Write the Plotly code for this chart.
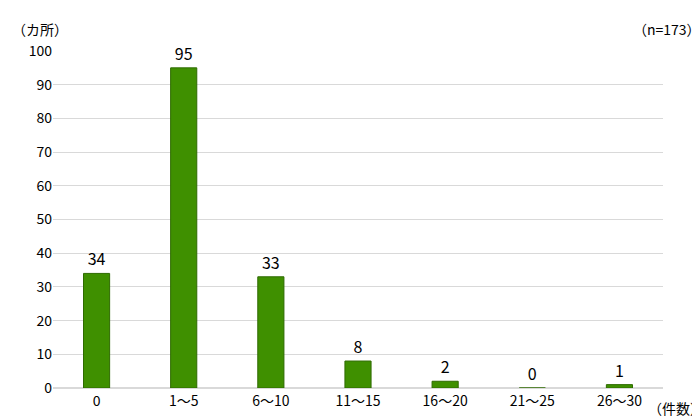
import plotly.graph_objects as go

categories = ["0", "1～5", "6～10", "11～15", "16～20", "21～25", "26～30"]
values = [34, 95, 33, 8, 2, 0, 1]
y_ticks = [0, 10, 20, 30, 40, 50, 60, 70, 80, 90, 100]

font = "Noto Sans CJK JP"
fig = go.Figure(go.Bar(
    x=categories, y=values, width=0.3,
    marker=dict(color="#3f9000", line=dict(color="#2e6b00", width=1)),
    text=[str(v) for v in values], textposition="outside",
    textfont=dict(size=16, color="#000", family=font), cliponaxis=False,
))
fig.update_layout(
    width=700, height=418, plot_bgcolor="white", paper_bgcolor="white",
    margin=dict(l=45, r=45, t=43, b=38), showlegend=False,
    font=dict(family=font, size=14, color="#000"),
    xaxis=dict(showline=True, linecolor="#d9d9d9", ticks="", tickfont=dict(size=14), automargin=False),
    yaxis=dict(range=[0, 100], tickvals=y_ticks, showgrid=True, gridcolor="#d9d9d9",
               zeroline=True, zerolinecolor="#d9d9d9", ticks="", tickfont=dict(size=14), automargin=False),
    annotations=[
        dict(text="（カ所）", xref="paper", yref="paper", x=-0.07, y=1.03, xanchor="left",
             yanchor="bottom", showarrow=False, font=dict(size=14)),
        dict(text="（n=173）", xref="paper", yref="paper", x=1.065, y=1.03, xanchor="right",
             yanchor="bottom", showarrow=False, font=dict(size=14)),
        dict(text="（件数）", xref="paper", yref="paper", x=1.07, y=-0.025, xanchor="right",
             yanchor="top", showarrow=False, font=dict(size=14)),
    ],
)
fig.write_html("out.html")
